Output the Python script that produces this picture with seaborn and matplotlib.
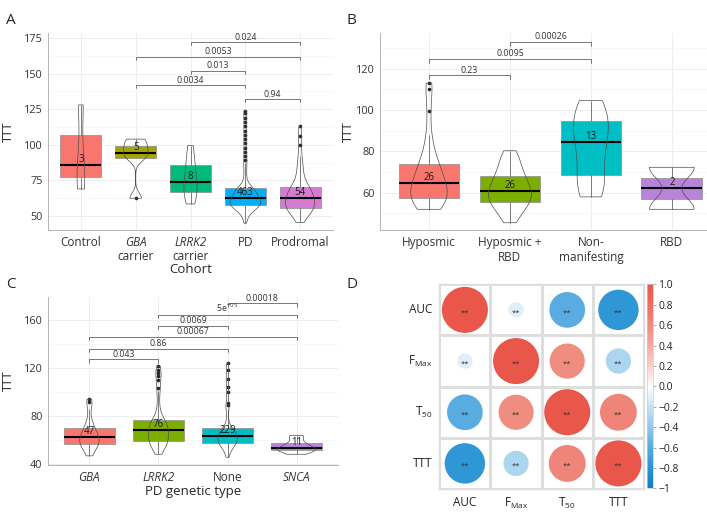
import numpy as np
import pandas as pd
import matplotlib.pyplot as plt
import seaborn as sns
from matplotlib.colors import LinearSegmentedColormap, ListedColormap, Normalize
from matplotlib.cm import ScalarMappable
from matplotlib.patches import Circle
from matplotlib.ticker import MultipleLocator
from matplotlib.transforms import blended_transform_factory

sns.set_style("white")
plt.rcParams["font.family"] = ["Open Sans", "DejaVu Sans"]
plt.rcParams["mathtext.fontset"] = "custom"
plt.rcParams["mathtext.rm"] = "Open Sans"
plt.rcParams["mathtext.it"] = "Open Sans:italic"
plt.rcParams["mathtext.bf"] = "Open Sans:bold"

cohort_groups = ["Control", "GBA carrier", "LRRK2 carrier", "PD", "Prodromal"]
cohort_labels = ["Control", "GBA", "LRRK2", "PD", "Prodromal"]
cohort_second_line = ["", "carrier", "carrier", "", ""]
cohort_n = [3, 5, 8, 463, 54]
ttt_control = [69, 86, 128]
ttt_gba_carrier = [62.5, 91, 94.5, 99.5, 104]
ttt_lrrk2_carrier = [58.5, 64, 68, 72, 76, 84, 90, 99.5]
ttt_pd = [45, 47.5, 49.5, 51, 52, 53, 53.5, 54, 54.5, 55, 55.5, 55.5, 56, 56, 56.5, 56.5, 57, 57, 57.5, 57.5,
          58,
          58, 58.5, 58.5, 59, 59, 59.5, 59.5, 60, 60, 60.5, 60.5, 61, 61, 61.5, 61.5, 62, 62, 62.5, 62.5,
          63,
          63, 63.5, 64, 64, 64.5, 65, 65.5, 66, 66, 66.5, 67, 67.5, 68, 68, 68.5, 69, 69, 69.5, 70,
          70,
          71, 73, 75, 78, 81, 84, 87, 89, 92, 95, 98, 101, 104, 107, 110, 113, 116, 119, 122, 124]
ttt_prodromal = [45.5, 48, 50, 51.5, 52.5, 53.5, 54, 54.5, 55, 55.5,
                 55.5,
                 56.5, 57.5, 58.5, 59, 60, 60.5, 61, 61.5, 62,
                 62.5,
                 63.5, 64.5, 65.5, 66, 67, 68, 69, 69.5, 70,
                 70.5,
                 73, 75, 78, 81, 84, 88, 92, 100, 106, 113]
cohort_colors = ["#F8766D", "#A3A500", "#00BA7A", "#00B0F6", "#D57BD2"]
cohort_left = [1, 2, 1, 2, 3]
cohort_right = [3, 3, 4, 4, 4]
cohort_bracket_y = [142, 152, 162, 172, 132]
cohort_p = ["0.0034", "0.013", "0.0053", "0.024", "0.94"]

# ---- panel B: prodromal subgroups
prod_groups = ["Hyposmic", "Hyposmic + RBD", "Non-manifesting", "RBD"]
prod_labels = ["Hyposmic", "Hyposmic +\nRBD", "Non-\nmanifesting", "RBD"]
prod_n = [26, 26, 13, 2]
ttt_hyposmic = [52, 53, 54.5, 55.5, 56.5, 57, 57.5, 58, 59, 60.5, 62, 63.5, 64, 65, 66.5, 68, 70, 72, 73,
                74.5, 78, 82, 88, 99.5, 110, 113]
ttt_hyposmic_rbd = [45.5, 48, 50, 52, 53.5, 54.5, 55.5, 56, 57, 58, 59, 60, 60.5, 61.5, 62.5, 63.5, 65, 66,
                    67.5, 68.5, 70, 72, 74, 76, 78, 80.3]
ttt_nonmanifesting = [58, 60, 64, 68.4, 74, 80, 84.5, 88, 91, 94.7, 98, 102, 104.5]
ttt_rbd = [52, 72.3]
prod_colors = ["#F8766D", "#7CAE00", "#00BFC4", "#B884DA"]
prod_left = [0, 0, 1]
prod_right = [1, 2, 2]
prod_bracket_y = [116.8, 124.8, 133]
prod_p = ["0.23", "0.0095", "0.00026"]

# ---- panel C: PD genetic type
gene_groups = ["GBA", "LRRK2", "None", "SNCA"]
gene_n = [47, 76, 229, 11]
ttt_gba = [47, 50, 52.5, 54, 55.5, 57, 58, 59, 60, 61, 62.4, 63.5, 65, 66.5, 68.5, 70.5, 73, 77, 86, 92, 94]
ttt_lrrk2 = [48.3, 50.5, 52.5, 54, 55, 56, 57, 57.5, 58.5, 59, 59.7,
             60.5, 61.5, 62.5, 63.5, 64.5, 65.5, 66, 67, 67.5, 68.3,
             69, 70, 71, 72, 73, 74, 75, 75.5, 76.5, 76.9,
             80, 85, 92, 101, 103.5, 110, 113, 116, 118, 121.5]
ttt_none = [45.8, 49, 51.5, 53, 54.5, 55.5, 56, 56.5, 57, 57.5, 58,
            58.5, 59, 59.5, 60, 60.5, 61.5, 62, 62.5, 63, 63.6,
            64, 64.5, 65, 66, 66.5, 67, 68, 68.5, 69.5, 70,
            74, 80, 86, 89, 91, 100, 104, 111, 118, 124]
ttt_snca = [48.3, 50.5, 51.3, 51.9, 52.7, 53.3, 54.5, 56.5, 58.5, 63, 63.8]
gene_colors = ["#F8766D", "#7CAE00", "#00BFC4", "#B884DA"]
gene_left = [0, 0, 0, 1, 1, 2]
gene_right = [1, 2, 3, 2, 3, 3]
gene_bracket_y = [127.3, 136.2, 145.9, 155.3, 164.4, 173.6]
gene_p = ["0.043", "0.86", "0.00067", "0.0069", "5e$^{-05}$", "0.00018"]
italic_names = ["GBA", "LRRK2", "SNCA"]

# ---- panel D: correlation matrix
corr_vars = ["AUC", "FMax", "T50", "TTT"]
corr_labels = ["AUC", "F$_{\\mathregular{Max}}$", "T$_{\\mathregular{50}}$", "TTT"]
corr_auc = [1.0, -0.11, -0.60, -0.77]
corr_fmax = [-0.11, 1.0, 0.58, -0.30]
corr_t50 = [-0.60, 0.58, 1.0, 0.64]
corr_ttt = [-0.77, -0.30, 0.64, 1.0]
cbar_ticks = [1.0, 0.8, 0.6, 0.4, 0.2, 0.0, -0.2, -0.4, -0.6, -0.8, -1.0]
cbar_labels = ["1.0", "0.8", "0.6", "0.4", "0.2", "0.0", "\u22120.2", "\u22120.4", "\u22120.6", "\u22120.8", "\u22121"]

# violin shape settings (style, not data)
a_vwidth = [0.14, 0.45, 0.24, 0.56, 0.53]
a_bw = [0.65, 0.33, 0.9, 0.4, 0.67]
b_vwidth = [0.45, 0.53, 0.43, 0.55]
b_bw = [0.7, 0.9, 0.9, 0.47]
c_vwidth = [0.28, 0.29, 0.28, 0.55]
c_bw = [0.65, 0.58, 0.45, 0.8]

W, H = 707, 532
fig = plt.figure(figsize=(W / 100, H / 100), dpi=100)


def px_axes(left, top, right, bottom):
    return fig.add_axes([left / W, 1 - bottom / H, (right - left) / W, (bottom - top) / H])


def draw_cat_panel(ax, groups, values, counts, palette, vwidth, bwadj):
    df = pd.DataFrame({"group": np.repeat(groups, [len(v) for v in values]),
                       "TTT": np.concatenate(values)})
    sns.boxplot(data=df, x="group", y="TTT", hue="group", order=groups, hue_order=groups,
                palette=palette, saturation=1, width=0.75, legend=False, ax=ax,
                linecolor="#8c8c8c", linewidth=0.5, showcaps=False, whis=1.5, fliersize=1.6,
                medianprops=dict(color="black", linewidth=1.5),
                whiskerprops=dict(color="#4d4d4d", linewidth=0.5),
                flierprops=dict(marker="o", markerfacecolor="#262626",
                                markeredgecolor="#262626", markersize=1.6))
    for g, v, w, b in zip(groups, values, vwidth, bwadj):
        nc = len(ax.collections)
        sns.violinplot(x=[g] * len(v), y=v, order=groups, fill=False, color="#4d4d4d",
                       linewidth=0.5, width=w, bw_adjust=b, cut=0, inner=None,
                       density_norm="width", ax=ax)
        for art in list(ax.collections)[nc:]:
            art.set_zorder(3)
    for i, (v, n) in enumerate(zip(values, counts)):
        ax.text(i, np.median(v), str(n), ha="center", va="bottom", fontsize=7,
                color="#1a1a1a", zorder=5)


def draw_brackets(ax, left, right, heights, labels, drop):
    for i, j, y, lab in zip(left, right, heights, labels):
        ax.plot([i, i, j, j], [y - drop, y, y, y - drop], color="#444444", linewidth=0.5, zorder=4)
        ax.text((i + j) / 2, y + drop * 0.1, lab, ha="center", va="bottom", fontsize=6.3,
                color="#333333", zorder=5)


def style_axes(ax, labels, ylim, major, minor, xlabel, ypad, xpad=1):
    ax.set_xlim(-0.6, len(labels) - 0.4)
    ax.set_ylim(*ylim)
    ax.set_xticks(range(len(labels)))
    ax.set_xticklabels(labels)
    ax.yaxis.set_major_locator(MultipleLocator(major))
    ax.yaxis.set_minor_locator(MultipleLocator(minor))
    ax.grid(True, which="major", color="#ebebeb", linewidth=0.6)
    ax.grid(True, which="minor", axis="y", color="#f3f3f3", linewidth=0.4)
    ax.set_axisbelow(True)
    for s in ["top", "right"]:
        ax.spines[s].set_visible(False)
    for s in ["left", "bottom"]:
        ax.spines[s].set_color("#a8a8a8")
        ax.spines[s].set_linewidth(0.6)
    ax.tick_params(axis="both", which="major", length=2.5, width=0.5, color="#777777",
                   pad=1.5, labelcolor="#333333")
    ax.tick_params(axis="y", labelsize=7.8)
    ax.tick_params(axis="x", labelsize=8.5)
    ax.tick_params(which="minor", length=0)
    ax.set_xlabel(xlabel, fontsize=9.5, labelpad=xpad)
    ax.set_ylabel("TTT", fontsize=9, labelpad=ypad)
    for lab in ax.get_xticklabels():
        if lab.get_text() in italic_names:
            lab.set_fontstyle("italic")


# panel A
axA = px_axes(48, 33, 333, 230)
draw_cat_panel(axA, cohort_groups,
               [ttt_control, ttt_gba_carrier, ttt_lrrk2_carrier, ttt_pd, ttt_prodromal],
               cohort_n, cohort_colors, a_vwidth, a_bw)
draw_brackets(axA, cohort_left, cohort_right, cohort_bracket_y, cohort_p, 2.2)
style_axes(axA, cohort_labels, (40.2, 178.5), 25, 12.5, "Cohort", 6, xpad=10.5)
trA = blended_transform_factory(axA.transData, axA.transAxes)
for i, extra in enumerate(cohort_second_line):
    if extra:
        axA.text(i, -26 / 197, extra, transform=trA, ha="center", va="center",
                 fontsize=8.5, color="#333333")

# panel B
axB = px_axes(380.4, 33, 720.4, 230)
draw_cat_panel(axB, prod_groups, [ttt_hyposmic, ttt_hyposmic_rbd, ttt_nonmanifesting, ttt_rbd],
               prod_n, prod_colors, b_vwidth, b_bw)
draw_brackets(axB, prod_left, prod_right, prod_bracket_y, prod_p, 2)
style_axes(axB, prod_labels, (42, 137.2), 20, 10, "", 1)

# panel C
axC = px_axes(48, 297, 338, 465)
draw_cat_panel(axC, gene_groups, [ttt_gba, ttt_lrrk2, ttt_none, ttt_snca],
               gene_n, gene_colors, c_vwidth, c_bw)
draw_brackets(axC, gene_left, gene_right, gene_bracket_y, gene_p, 2.8)
style_axes(axC, gene_groups, (39.4, 179), 40, 20, "PD genetic type", 6)

# panel D
cmap = LinearSegmentedColormap.from_list(
    "corr", ["#0f7cc4", "#2a94d6", "#58ace0", "#92c8ec", "#c8e2f4", "#ffffff",
             "#f8d0cc", "#f4aaa2", "#f08b7e", "#ec6e5f", "#e8574a"])
norm = Normalize(vmin=-1, vmax=1)
corr = pd.DataFrame([corr_auc, corr_fmax, corr_t50, corr_ttt], index=corr_vars, columns=corr_vars)

axD = px_axes(439.3, 284.3, 644, 489)
sns.heatmap(np.zeros(corr.shape), cmap=ListedColormap(["white"]), vmin=0, vmax=1, cbar=False,
            linewidths=1, linecolor="#dedede", xticklabels=corr_labels, yticklabels=corr_labels, ax=axD)
for i, row in enumerate(corr.values):
    for j, r in enumerate(row):
        axD.add_patch(Circle((j + 0.5, i + 0.5), 0.45 * np.sqrt(abs(r)),
                             facecolor=cmap(norm(r)), edgecolor="none", zorder=3))
        axD.text(j + 0.5, i + 0.56, "**", ha="center", va="center", fontsize=5.5,
                 color="#333333", zorder=4)
for s in axD.spines.values():
    s.set_visible(True)
    s.set_color("#dedede")
    s.set_linewidth(1)
axD.tick_params(length=0, labelsize=8.5, labelcolor="#222222", pad=5)
axD.set_yticklabels(corr_labels, rotation=0)
axD.set_xticklabels(corr_labels, rotation=0)

cax = px_axes(646.7, 284.3, 652.7, 488.3)
cb = fig.colorbar(ScalarMappable(norm=norm, cmap=cmap), cax=cax, ticks=cbar_ticks)
cb.ax.set_yticklabels(cbar_labels)
cb.outline.set_edgecolor("#cccccc")
cb.outline.set_linewidth(0.5)
cax.tick_params(labelsize=7.5, length=2, width=0.5, color="#888888", pad=2, labelcolor="#222222")

# panel letters
fig.text(6 / W, 1 - 20 / H, "A", fontsize=11, va="center", ha="left")
fig.text(347 / W, 1 - 20 / H, "B", fontsize=11, va="center", ha="left")
fig.text(6 / W, 1 - 285 / H, "C", fontsize=11, va="center", ha="left")
fig.text(347 / W, 1 - 285 / H, "D", fontsize=11, va="center", ha="left")

fig.savefig("out.png", dpi=100, facecolor="white")
